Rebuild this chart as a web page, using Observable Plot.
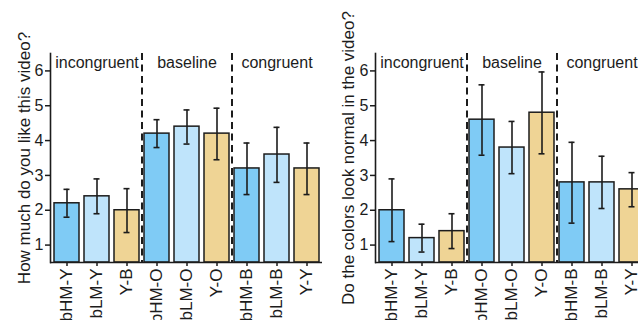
<!DOCTYPE html>
<html>
<head>
<meta charset="utf-8">
<script src="https://cdn.jsdelivr.net/npm/d3@7"></script>
<script src="https://cdn.jsdelivr.net/npm/@observablehq/plot@0.6"></script>
<style>
  html, body { margin: 0; padding: 0; background: #fff; }
  #wrap { position: relative; width: 638px; height: 320px; overflow: hidden; }
  .panel { position: absolute; top: 0; width: 325px; height: 320px; }
  .panel svg { max-width: none !important; }
</style>
</head>
<body>
<div id="wrap">
  <div class="panel" id="p1" style="left:0px"></div>
  <div class="panel" id="p2" style="left:325px"></div>
</div>
<script>
const categories = ["bHM-Y", "bLM-Y", "Y-B", "bHM-O", "bLM-O", "Y-O", "bHM-B", "bLM-B", "Y-Y"];
const colorKind = ["bHM", "bLM", "Y", "bHM", "bLM", "Y", "bHM", "bLM", "Y"];
const groups = ["incongruent", "baseline", "congruent"];
const groupCenters = ["bLM-Y", "bLM-O", "bLM-B"];
const groupEnds = ["Y-B", "Y-O"];
const yTicks = [1, 2, 3, 4, 5, 6];

const likeTitle = "How much do you like this video?";
const likeMean = [2.2, 2.4, 2.0, 4.2, 4.4, 4.2, 3.2, 3.6, 3.2];
const likeLow  = [1.8, 1.9, 1.36, 3.8, 3.9, 3.45, 2.45, 2.8, 2.45];
const likeHigh = [2.6, 2.9, 2.62, 4.6, 4.88, 4.93, 3.93, 4.38, 3.93];

const normalTitle = "Do the colors look normal in the video?";
const normalMean = [2.0, 1.2, 1.4, 4.6, 3.8, 4.8, 2.8, 2.8, 2.6];
const normalLow  = [1.1, 0.8, 0.9, 3.58, 3.05, 3.62, 1.63, 2.05, 2.1];
const normalHigh = [2.9, 1.6, 1.9, 5.6, 4.55, 5.97, 3.95, 3.55, 3.08];

const kindColors = {bHM: "#7fcbf5", bLM: "#bfe4fb", Y: "#efd495"};
const ink = "#1c1c1c";
const FONT = "'Liberation Sans', Arial, Helvetica, sans-serif";

function panel(title, mean, low, high, dxTitle) {
  const rows = categories.map((c, i) => ({cat: c, kind: colorKind[i], mean: mean[i], low: low[i], high: high[i]}));
  const labelRows = groups.map((g, i) => ({label: g, cat: groupCenters[i]}));
  return Plot.plot({
    width: 325,
    height: 320,
    marginLeft: 50,
    marginRight: 3,
    marginTop: 53,
    marginBottom: 58,
    style: {fontFamily: FONT, color: ink, background: "white", overflow: "visible"},
    x: {domain: categories, paddingInner: 0.17, paddingOuter: 0.11, label: null},
    y: {domain: [0.5, 6.5], label: null},
    marks: [
      Plot.barY(rows, {x: "cat", y1: 0.5, y2: "mean", fill: d => kindColors[d.kind], stroke: ink, strokeWidth: 1.5}),
      Plot.ruleX(rows, {x: "cat", y1: "low", y2: "high", stroke: ink, strokeWidth: 1.6}),
      Plot.tickY(rows, {x: "cat", y: "low", stroke: ink, strokeWidth: 1.6, insetLeft: 9.5, insetRight: 9.5}),
      Plot.tickY(rows, {x: "cat", y: "high", stroke: ink, strokeWidth: 1.6, insetLeft: 9.5, insetRight: 9.5}),
      Plot.ruleX(groupEnds, {x: d => d, dx: 15, stroke: ink, strokeWidth: 2, strokeDasharray: "7,4.5"}),
      Plot.text(labelRows, {x: "cat", y: 6.5, text: "label", dy: 9, fontSize: 16, fill: ink}),
      Plot.axisY({ticks: yTicks, tickFormat: d3.format("d"), tickSize: 5, tickPadding: 2, fontSize: 16, strokeWidth: 1.5, label: null}),
      Plot.axisX({tickRotate: -90, tickSize: 4, tickPadding: 2, fontSize: 17, strokeWidth: 1.5, label: null}),
      Plot.frame({anchor: "left", stroke: ink, strokeWidth: 1.6}),
      Plot.ruleY([0.5], {stroke: ink, strokeWidth: 1.6}),
      Plot.text([title], {frameAnchor: "left", textAnchor: "middle", rotate: -90, dx: dxTitle, fontSize: 17, fill: ink})
    ]
  });
}

document.getElementById("p1").appendChild(panel(likeTitle, likeMean, likeLow, likeHigh, -26));
document.getElementById("p2").appendChild(panel(normalTitle, normalMean, normalLow, normalHigh, -27));
</script>
</body>
</html>
